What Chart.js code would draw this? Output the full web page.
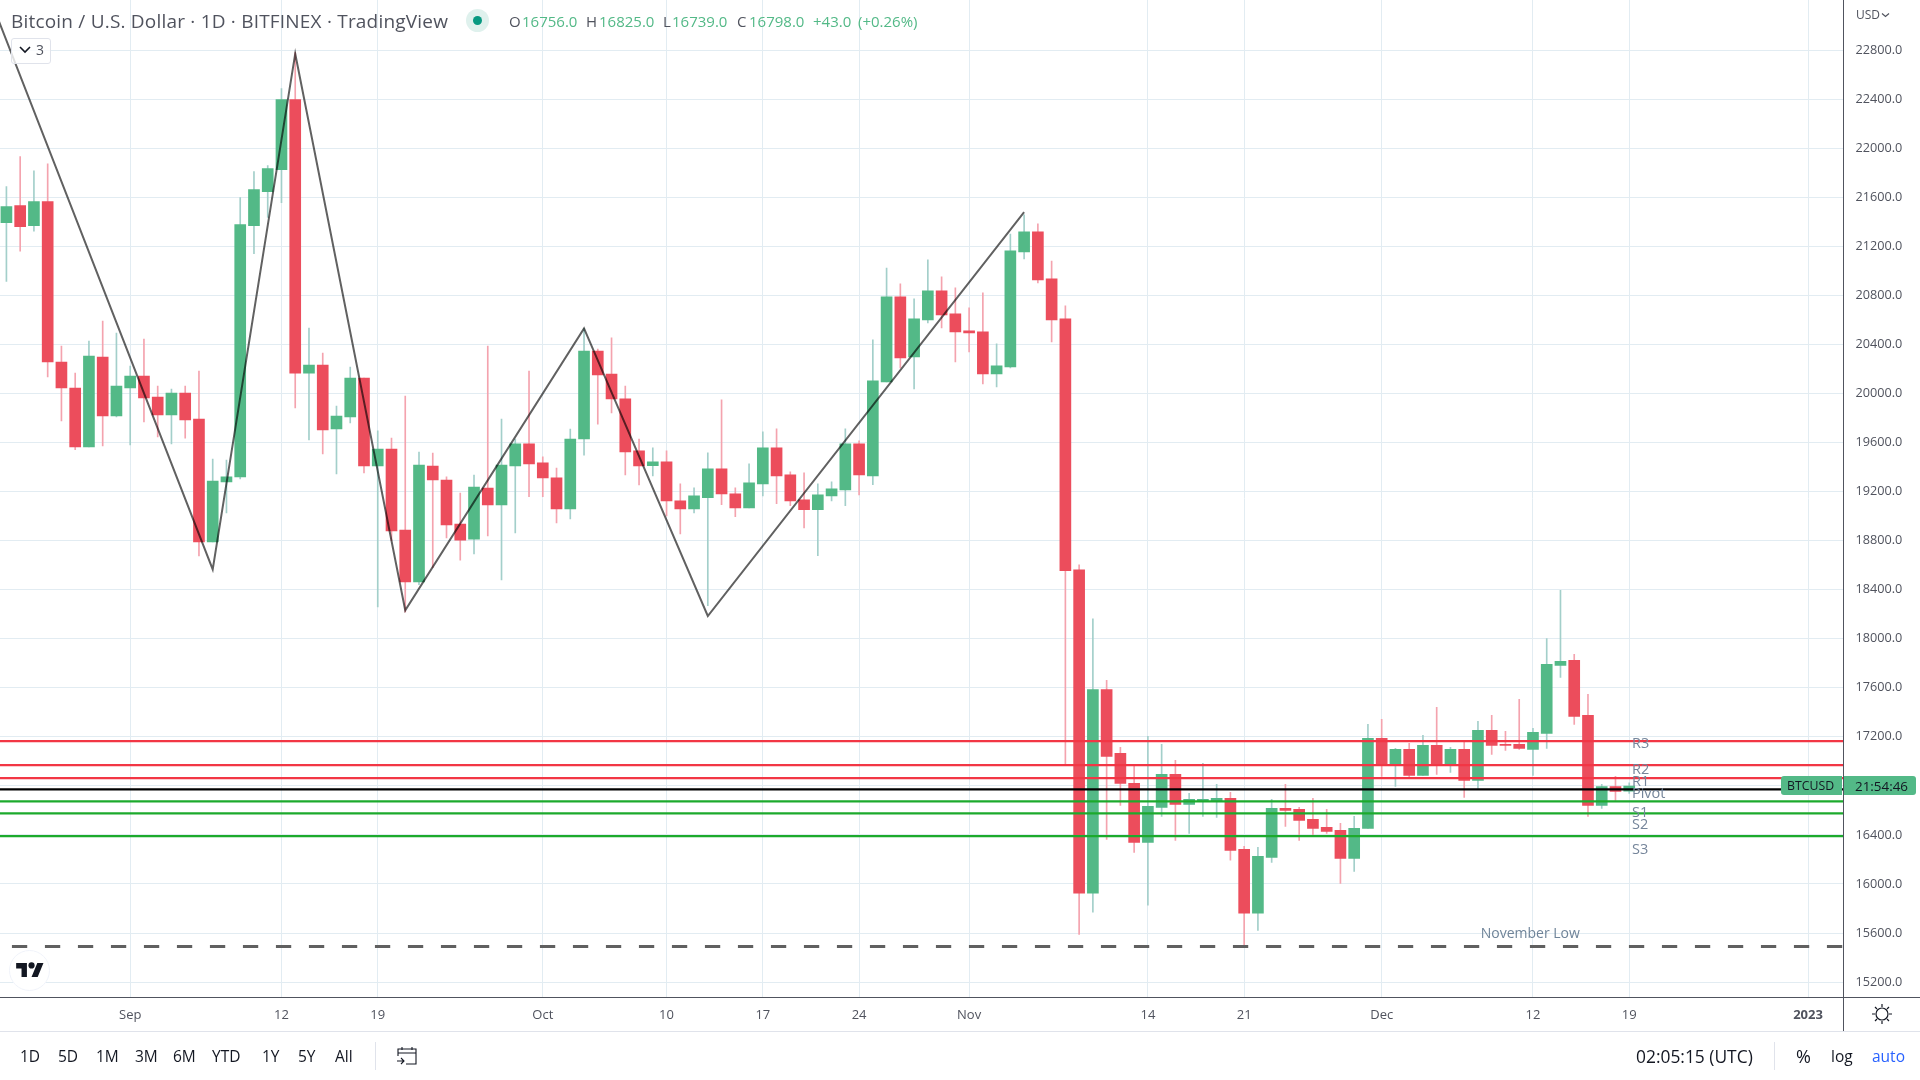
<!DOCTYPE html>
<html><head><meta charset="utf-8"><title>Bitcoin / U.S. Dollar</title>
<script src="https://cdn.jsdelivr.net/npm/chart.js@4"></script>
<style>
html,body{margin:0;padding:0;background:#fff;width:1920px;height:1080px;overflow:hidden}
body{font-family:"Open Sans",Lato,sans-serif;position:relative}
canvas{position:absolute;left:0;top:0}
.t{position:absolute;white-space:nowrap;line-height:20px;height:20px}
.g{color:#53b987}.k{color:#50535e}
.b{font-size:15.5px;color:#131722;top:1046px}
.ln{position:absolute}
</style></head><body>
<canvas id="c" width="1920" height="1080"></canvas>
<div class="ln" style="left:1843px;top:0;width:1px;height:1031px;background:#50535e"></div>
<div class="ln" style="left:0;top:997px;width:1920px;height:1px;background:#50535e"></div>
<div class="ln" style="left:0;top:1031px;width:1920px;height:1px;background:#e0e3eb"></div>
<div class="ln" style="left:375px;top:1042px;width:1px;height:28px;background:#e0e3eb"></div>
<div class="ln" style="left:1774px;top:1042px;width:1px;height:28px;background:#e0e3eb"></div>

<div class="t k" style="left:11px;top:11px;font-size:19px;letter-spacing:.2px" id="title">Bitcoin / U.S. Dollar · 1D · BITFINEX · TradingView</div>
<div class="ln" style="left:466px;top:9px;width:23px;height:23px;border-radius:50%;background:#dff1ed"></div>
<div class="ln" style="left:473px;top:16px;width:9px;height:9px;border-radius:50%;background:#089981"></div>
<div class="t k" style="left:509px;top:11px;font-size:15px">O</div><div class="t g" style="left:522px;top:11px;font-size:15px">16756.0</div>
<div class="t k" style="left:586px;top:11px;font-size:15px">H</div><div class="t g" style="left:599px;top:11px;font-size:15px">16825.0</div>
<div class="t k" style="left:663px;top:11px;font-size:15px">L</div><div class="t g" style="left:672px;top:11px;font-size:15px">16739.0</div>
<div class="t k" style="left:737px;top:11px;font-size:15px">C</div><div class="t g" style="left:749px;top:11px;font-size:15px">16798.0</div>
<div class="t g" style="left:813px;top:11px;font-size:15px">+43.0</div>
<div class="t g" style="left:858px;top:11px;font-size:15px">(+0.26%)</div>

<div class="ln" style="left:11px;top:38px;width:38px;height:24px;border:1px solid #e0e3eb;border-radius:3px;background:rgba(255,255,255,.8)"></div>
<svg class="ln" style="left:19px;top:45px" width="12" height="10"><path d="M1 2l5 5 5-5" fill="none" stroke="#131722" stroke-width="1.6"/></svg>
<div class="t k" style="left:36px;top:40px;font-size:14px">3</div>

<div class="ln" style="left:9px;top:950px;width:39px;height:39px;border:1px solid #f0f3fa;border-radius:50%;background:#fff"></div>
<svg class="ln" style="left:16px;top:960px" width="28" height="20" viewBox="0 0 36 26"><path d="M14 22H7V11H0V4h14v18zM28 22h-8l7.5-18h8L28 22z" fill="#131722"/><circle cx="20" cy="7" r="4" fill="#131722"/></svg>

<div class="t k" style="left:1856px;top:5px;font-size:12px">USD</div>
<svg class="ln" style="left:1881px;top:12px" width="9" height="7"><path d="M1 1.5l3.5 3 3.5-3" fill="none" stroke="#50535e" stroke-width="1.2"/></svg>

<div class="ln" style="left:1781px;top:776px;width:61px;height:19px;background:#53b987;border-radius:3px 0 0 3px"></div>
<div class="ln" style="left:1844px;top:776px;width:72px;height:19px;background:#53b987;border-radius:0 3px 3px 0"></div>
<div class="t" style="left:1787px;top:776px;font-size:12.3px;color:#131722">BTCUSD</div>
<div class="t" style="left:1855px;top:776px;font-size:13.4px;color:#131722">21:54:46</div>

<svg class="ln" style="left:1870px;top:1002px" width="24" height="24" viewBox="0 0 24 24" fill="none" stroke="#131722" stroke-width="1.2"><circle cx="12" cy="12" r="6"/><path d="M12 2v3M12 19v3M2 12h3M19 12h3M5 5l2 2M17 17l2 2M5 19l2-2M17 7l2-2"/></svg>

<div class="t b" style="left:20px">1D</div><div class="t b" style="left:58px">5D</div><div class="t b" style="left:96px">1M</div>
<div class="t b" style="left:135px">3M</div><div class="t b" style="left:173px">6M</div><div class="t b" style="left:212px">YTD</div>
<div class="t b" style="left:262px">1Y</div><div class="t b" style="left:298px">5Y</div><div class="t b" style="left:335px">All</div>
<svg class="ln" style="left:396px;top:1045px" width="22" height="22" viewBox="0 0 22 22" fill="none" stroke="#131722" stroke-width="1.1"><path d="M2 11V4h18v15H10M2 8h18M6 2v3M16 2v3M1 16h7M5 13l3 3-3 3"/></svg>
<div class="t b" style="left:1636px;font-size:17.4px">02:05:15 (UTC)</div>
<div class="t b" style="left:1796px;font-size:18px">%</div>
<div class="t b" style="left:1831px;font-size:15.5px">log</div>
<div class="t b" style="left:1872px;font-size:15.5px;color:#2962ff">auto</div>

<script>
const firstDay = -9;
const opens = [21393,21531,21368,21564,20256,20044,19563,20297,19816,20044,20142,19971,19824,20003,19791,18789,19278,19319,21368,21645,21825,22395,20166,20232,19710,19808,20126,19408,19547,18886,18462,19408,19294,18935,18812,19229,19090,19408,19588,19433,19311,19058,19628,20345,20158,19955,19531,19410,19442,19124,19059,19149,19385,19181,19067,19263,19556,19336,19132,19051,19165,19214,19589,19328,20094,20787,20298,20600,20836,20648,20510,20502,20159,20216,21154,21317,20934,20608,18562,15924,17586,17065,16820,16339,16625,16894,16649,16674,16674,16698,16282,15761,16217,16616,16608,16527,16462,16437,16209,16453,17187,16975,17097,16885,17130,16975,17097,16844,17252,17138,17138,17097,17228,17783,17823,17375,16640,16795,16756];
const highs = [21686,21931,21816,21873,20386,20166,20427,20590,20492,20223,20443,20060,20036,20060,20183,19465,19457,21596,21808,21857,22485,22780,20533,20329,19897,20215,20126,19694,19636,19979,19522,19514,19319,19188,19335,20386,19791,19628,20183,19482,19392,19710,20530,20361,20454,20060,19628,19556,19532,19263,19230,19515,19947,19230,19426,19687,19711,19361,19352,19263,19279,19711,19613,20437,21023,20893,20771,21089,20950,20860,20697,20820,20404,21300,21457,21382,21080,20714,18603,18161,17660,17114,16967,17203,17138,17008,16739,16983,16812,16747,16307,16299,16690,16812,16625,16698,16608,16494,16551,17301,17342,17105,17146,17211,17440,17114,17154,17326,17375,17244,17505,17268,18000,18395,17872,17546,16812,16877,16825];
const lows = [20914,21159,21322,20134,19775,19541,19563,19571,19808,19579,19767,19645,19588,19636,18675,18789,19025,19302,21140,21436,21556,19881,19620,19506,19343,19759,19351,18259,18800,18217,18440,18580,18821,18641,18691,18838,18479,18862,19158,19158,18944,18976,19497,19750,19841,19336,19253,19328,19002,18855,19026,18270,19092,18994,19067,19165,19100,19084,18904,18676,19124,19084,19173,19255,20094,20208,20037,20575,20534,20257,20339,20078,20053,20208,21097,20901,20420,16972,15589,15769,16364,16641,16258,15826,16551,16356,16413,16551,16543,16193,15492,15622,16176,16470,16356,16396,16413,16005,16103,16453,16877,16796,16869,16885,16894,16910,16705,16779,17056,17089,17097,16885,17105,17685,17301,16550,16616,16681,16739];
const closes = [21523,21360,21564,20256,20044,19563,20305,19816,20060,20142,19963,19824,20003,19783,18789,19286,19319,21376,21662,21833,22395,20166,20232,19702,19816,20126,19408,19547,18878,18462,19416,19294,18927,18804,19237,19090,19416,19588,19425,19311,19058,19628,20345,20150,19955,19523,19408,19442,19124,19059,19165,19385,19181,19067,19271,19556,19328,19124,19051,19173,19222,19589,19336,20102,20787,20290,20608,20836,20640,20502,20494,20159,20225,21162,21317,20926,20600,18554,15924,17586,17040,16820,16339,16633,16894,16649,16690,16690,16698,16274,15761,16225,16616,16600,16519,16453,16429,16209,16453,17187,16967,17097,16885,17130,16975,17097,16844,17252,17130,17130,17105,17236,17791,17815,17366,16640,16795,16754,16798];

const priceTicks = [15200,15600,16000,16400,16800,17200,17600,18000,18400,18800,19200,19600,20000,20400,20800,21200,21600,22000,22400,22800];
const dateTickDays = [0,11,18,30,39,46,53,61,74,81,91,102,109,122];
const dateTickLabels = ['Sep','12','19','Oct','10','17','24','Nov','14','21','Dec','12','19','2023'];

const zigzagDays = [-10,6,12,20,33,42,65];
const zigzagPrices = [23165,18565,22770,18232,20530,18185,21478];

const levelNames = ['R3','R2','R1','Pivot','S1','S2','S3'];
const levelPrices = [17165,16969,16863,16771,16673,16575,16390];
const levelLabelPrices = [17146,16931,16833,16738,16581,16483,16281];
const novemberLowPrice = 15490;
const novemberLabel = 'November Low';
const novemberLabelDay = 98.2;
const novemberLabelPrice = 15594;

const X_MIN = -9.467, X_MAX = 124.58, Y_MIN = 15078.2, Y_MAX = 23208;
const UP = '#53b987', DOWN = '#ec4d5c', UPW = '#a3cfca', DOWNW = '#f4a3ae';
const GRID = '#e2ecf2';
const FONT = '"Open Sans", Lato, sans-serif';

const wickData = highs.map((h,i)=>({x:firstDay+i,y:[lows[i],h]}));
const bodyData = opens.map((o,i)=>({x:firstDay+i,y:[o,closes[i]]}));
const isUp = opens.map((o,i)=>closes[i]>=o);

const levelColor = n => n==='Pivot' ? '#000000' : n[0]==='R' ? '#f23645' : '#1caa2c';
const levelSets = levelNames.map((n,i)=>({
  type:'line',label:n,order:3,
  data:[{x:X_MIN,y:levelPrices[i]},{x:X_MAX,y:levelPrices[i]}],
  borderColor:levelColor(n),borderWidth:2.2,pointRadius:0,tension:0
}));

const textPlugin = {
  id:'levelText',
  afterDatasetsDraw(chart){
    const {ctx,scales:{x,y}} = chart;
    ctx.save();
    ctx.textBaseline='middle';ctx.textAlign='left';
    ctx.font='14.5px '+FONT;ctx.fillStyle='#75859a';
    const lx = x.getPixelForValue(109.2);
    levelNames.forEach((n,i)=>ctx.fillText(n,lx,y.getPixelForValue(levelLabelPrices[i])));
    ctx.fillStyle='#6f8499';ctx.font='14px '+FONT;
    ctx.fillText(novemberLabel,x.getPixelForValue(novemberLabelDay),y.getPixelForValue(novemberLabelPrice));
    ctx.restore();
  }
};

new Chart(document.getElementById('c'),{
  type:'bar',
  plugins:[textPlugin],
  data:{datasets:[
    {label:'wicks',order:6,data:wickData,barThickness:1,grouped:false,
     backgroundColor:isUp.map(u=>u?UPW:DOWNW),borderWidth:0},
    {label:'bodies',order:5,data:bodyData,barThickness:11,grouped:false,
     backgroundColor:isUp.map(u=>u?UP:DOWN),borderWidth:0},
    ...levelSets,
    {type:'line',label:'November Low',order:2,
     data:[{x:-8.6,y:novemberLowPrice},{x:X_MAX,y:novemberLowPrice}],
     borderColor:'#606060',borderWidth:3,borderDash:[15.3,17.7],pointRadius:0},
    {type:'line',label:'zigzag',order:1,
     data:zigzagDays.map((d,i)=>({x:d,y:zigzagPrices[i]})),
     borderColor:'rgba(0,0,0,0.62)',borderWidth:2,pointRadius:0,tension:0}
  ]},
  options:{
    responsive:false,animation:false,
    layout:{padding:{left:0,right:0,top:0,bottom:49},autoPadding:false},
    plugins:{legend:{display:false},tooltip:{enabled:false},title:{display:false}},
    datasets:{bar:{grouped:false}},
    scales:{
      x:{type:'linear',min:X_MIN,max:X_MAX,offset:false,
        grid:{color:GRID,lineWidth:1,drawTicks:false,offset:false},border:{display:false},
        afterBuildTicks(s){s.ticks=dateTickDays.map(v=>({value:v}));},
        afterFit(s){s.height=34;s.paddingLeft=0;s.paddingRight=0;},
        ticks:{autoSkip:false,maxRotation:0,padding:10,color:'#50535e',
          font(c){return c.tick&&c.tick.value===122?{family:FONT,size:13,weight:'bold'}:{family:FONT,size:13};},
          callback(v){const k=dateTickDays.indexOf(v);return k<0?'':dateTickLabels[k];}}
      },
      y:{type:'linear',position:'right',min:Y_MIN,max:Y_MAX,
        grid:{color:GRID,lineWidth:1,drawTicks:false},border:{display:false},
        afterBuildTicks(s){s.ticks=priceTicks.map(v=>({value:v}));},
        afterFit(s){s.width=76.5;s.paddingTop=0;s.paddingBottom=0;},
        ticks:{autoSkip:false,padding:12,color:'#50535e',font:{family:FONT,size:12.7},
          callback(v){return v.toFixed(1);}}
      }
    }
  }
});
</script>
</body></html>
